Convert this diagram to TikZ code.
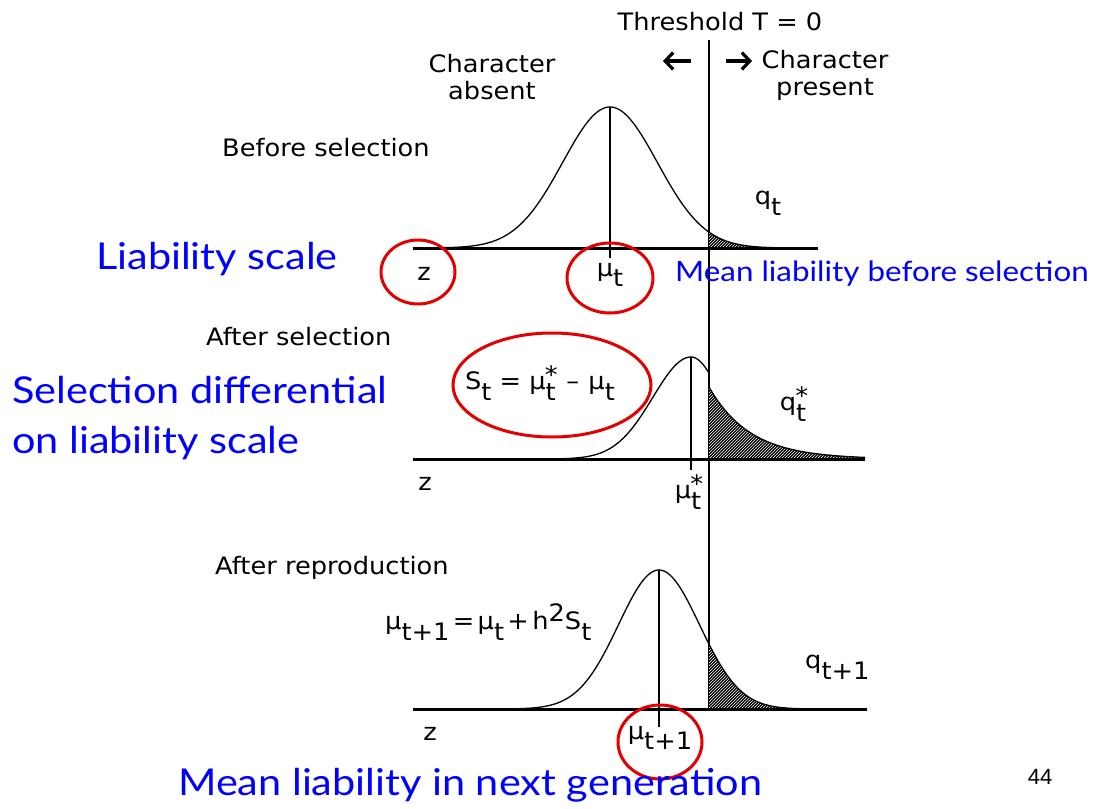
\documentclass[tikz,border=0pt]{standalone}
\usepackage{fontspec}
\setmainfont[FakeStretch=1.07]{DejaVu Sans}
\newfontfamily\bluefont[FakeStretch=1.12]{Lato}
\newfontfamily\pagefont{Liberation Sans}
\usetikzlibrary{patterns,arrows.meta}
\definecolor{ringred}{RGB}{228,0,0}
\definecolor{txtblue}{RGB}{0,0,255}
\newcommand{\lowsub}[1]{\raisebox{-0.45em}{#1}}
\newcommand{\starsub}[1]{\raisebox{-0.45em}{\rlap{\hspace{-0.03em}\raisebox{0.72em}{*}}#1}}
\newcommand{\tsp}{\hspace{0.14em}}
\tikzset{
  lbl/.style={font=\fontsize{24}{29}\selectfont, inner sep=0pt, align=center},
  bluelbl/.style={font=\bluefont\fontsize{37}{50}\selectfont, text=txtblue, inner sep=0pt, align=left},
  bluesmall/.style={font=\bluefont\fontsize{28}{30}\selectfont, text=txtblue, inner sep=0pt},
  ring/.style={draw=ringred, line width=3pt},
  axisline/.style={line width=3pt},
  curveline/.style={line width=1.3pt},
  meanline/.style={line width=1.2pt},
  hatch/.style={pattern=north east lines, pattern color=white},
  sidearrow/.style={line width=3.2pt, -{Straight Barb[length=8pt, width=17pt, line width=3.2pt]}}
}
\begin{document}
\begin{tikzpicture}[x=1pt,y=-1pt]
\fill[white] (0,0) rectangle (1094,808);
\useasboundingbox (0,0) rectangle (1094,808);

% ---------- top labels ----------
\node[lbl] (thr) at (720,22) {Threshold T = 0};
\node[lbl] (absent) at (492,77) {Character\\[-2pt]absent};
\node[lbl] (present) at (825,75) {Character\\[-2pt]present};
\coordinate (la) at (691,61);
\coordinate (lb) at (663,61);
\draw[sidearrow] (la) -- (lb);
\coordinate (ra) at (726,61);
\coordinate (rb) at (752,61);
\draw[sidearrow] (ra) -- (rb);
\coordinate (ttop) at (709,40);
\coordinate (tbot) at (709,709);
\draw[line width=1.3pt] (ttop) -- (tbot);

% ---------- panel 1: before selection ----------
\node[lbl, anchor=west] (before) at (222,148) {Before selection};
\fill[black] (709,248) -- plot[domain=9.9:20.8, samples=60] ({610+10*\x},{248-141*exp(-(\x)^2/44.9)}) -- (818,248) -- cycle;
\fill[hatch] (709,248) -- plot[domain=9.9:20.8, samples=60] ({610+10*\x},{248-141*exp(-(\x)^2/44.9)}) -- (818,248) -- cycle;
\draw[curveline] plot[domain=-19.7:20.8, samples=200] ({610+10*\x},{248-141*exp(-(\x)^2/44.9)});
\coordinate (b1l) at (413,248);
\coordinate (b1r) at (818,248);
\draw[axisline] (b1l) -- (b1r);
\coordinate (m1top) at (610,107);
\coordinate (m1bot) at (610,258);
\draw[meanline] (m1top) -- (m1bot);
\node[lbl] (qt) at (768,203) {q\lowsub{t}};
\node[lbl] (z1) at (424,274) {z};
\node[lbl] (mu1) at (610,275) {μ\lowsub{t}};

% ---------- panel 2: after selection ----------
\node[lbl, anchor=west] (after) at (206,337) {After selection};
\fill[black] (709,459) -- plot[domain=0:15.6, samples=60] ({709+10*\x},{459-72*exp(-\x/4.1)}) -- (865,459) -- cycle;
\fill[hatch] (709,459) -- plot[domain=0:15.6, samples=60] ({709+10*\x},{459-72*exp(-\x/4.1)}) -- (865,459) -- cycle;
\draw[curveline] plot[domain=-15:0, samples=90] ({691+10*\x},{459-102*exp(-(\x)^2/28.9)})
   -- plot[domain=0:1.8, samples=12] ({691+10*\x},{459-102*exp(-(\x)^2/18.9)});
\draw[curveline] plot[domain=0:15.6, samples=60] ({709+10*\x},{459-72*exp(-\x/4.1)});
\coordinate (b2l) at (413,459);
\coordinate (b2r) at (865,459);
\draw[axisline] (b2l) -- (b2r);
\coordinate (m2top) at (691,357);
\coordinate (m2bot) at (691,470);
\draw[meanline] (m2top) -- (m2bot);
\node[lbl] (st) at (540,383) {S\lowsub{t} = μ\starsub{t}\hspace{0.1em} – \hspace{0.05em}μ\lowsub{t}};
\node[lbl] (qst) at (793,404) {q\starsub{t}};
\node[lbl] (z2) at (425,484) {z};
\node[lbl] (mu2) at (688,492) {μ\starsub{t}};

% ---------- panel 3: after reproduction ----------
\node[lbl, anchor=west] (repro) at (215,568) {After reproduction};
\fill[black] (709,709) -- plot[domain=5:20.8, samples=60] ({659+10*\x},{709-139*exp(-(\x)^2/32.8)}) -- (867,709) -- cycle;
\fill[hatch] (709,709) -- plot[domain=5:20.8, samples=60] ({659+10*\x},{709-139*exp(-(\x)^2/32.8)}) -- (867,709) -- cycle;
\draw[curveline] plot[domain=-24.6:20.8, samples=220] ({659+10*\x},{709-139*exp(-(\x)^2/32.8)});
\coordinate (b3l) at (413,709);
\coordinate (b3r) at (867,709);
\draw[axisline] (b3l) -- (b3r);
\coordinate (m3top) at (659,570);
\coordinate (m3bot) at (659,727);
\draw[meanline] (m3top) -- (m3bot);
\node[lbl, anchor=west] (resp) at (385,622) {μ\lowsub{t+1}\tsp=\tsp μ\lowsub{t}\tsp+\tsp h\raisebox{0.35em}{2}S\lowsub{t}};
\node[lbl, anchor=west] (qt1) at (805,667) {q\lowsub{t+1}};
\node[lbl] (z3) at (430,734) {z};
\node[lbl] (mu3) at (660,738) {μ\lowsub{t+1}};

% ---------- red rings ----------
\draw[ring] (418,272) ellipse [x radius=37, y radius=32];
\draw[ring] (610,278) ellipse [x radius=43, y radius=35];
\draw[ring] (552,385) ellipse [x radius=99, y radius=52];
\draw[ring] (660,742) ellipse [x radius=42, y radius=37];

% ---------- blue annotations ----------
\node[bluelbl, anchor=west] (liab) at (96,259) {Liability scale};
\node[bluesmall, anchor=west] (meanbefore) at (675,274) {Mean liability before selection};
\node[bluelbl, anchor=west] (seldiff) at (12,418) {Selection differential\\on liability scale};
\node[bluelbl, anchor=west] (meannext) at (178,785) {Mean liability in next generation};
\node[font=\pagefont\fontsize{22}{24}\selectfont, inner sep=0pt] (page) at (1040,777) {44};
\end{tikzpicture}
\end{document}
